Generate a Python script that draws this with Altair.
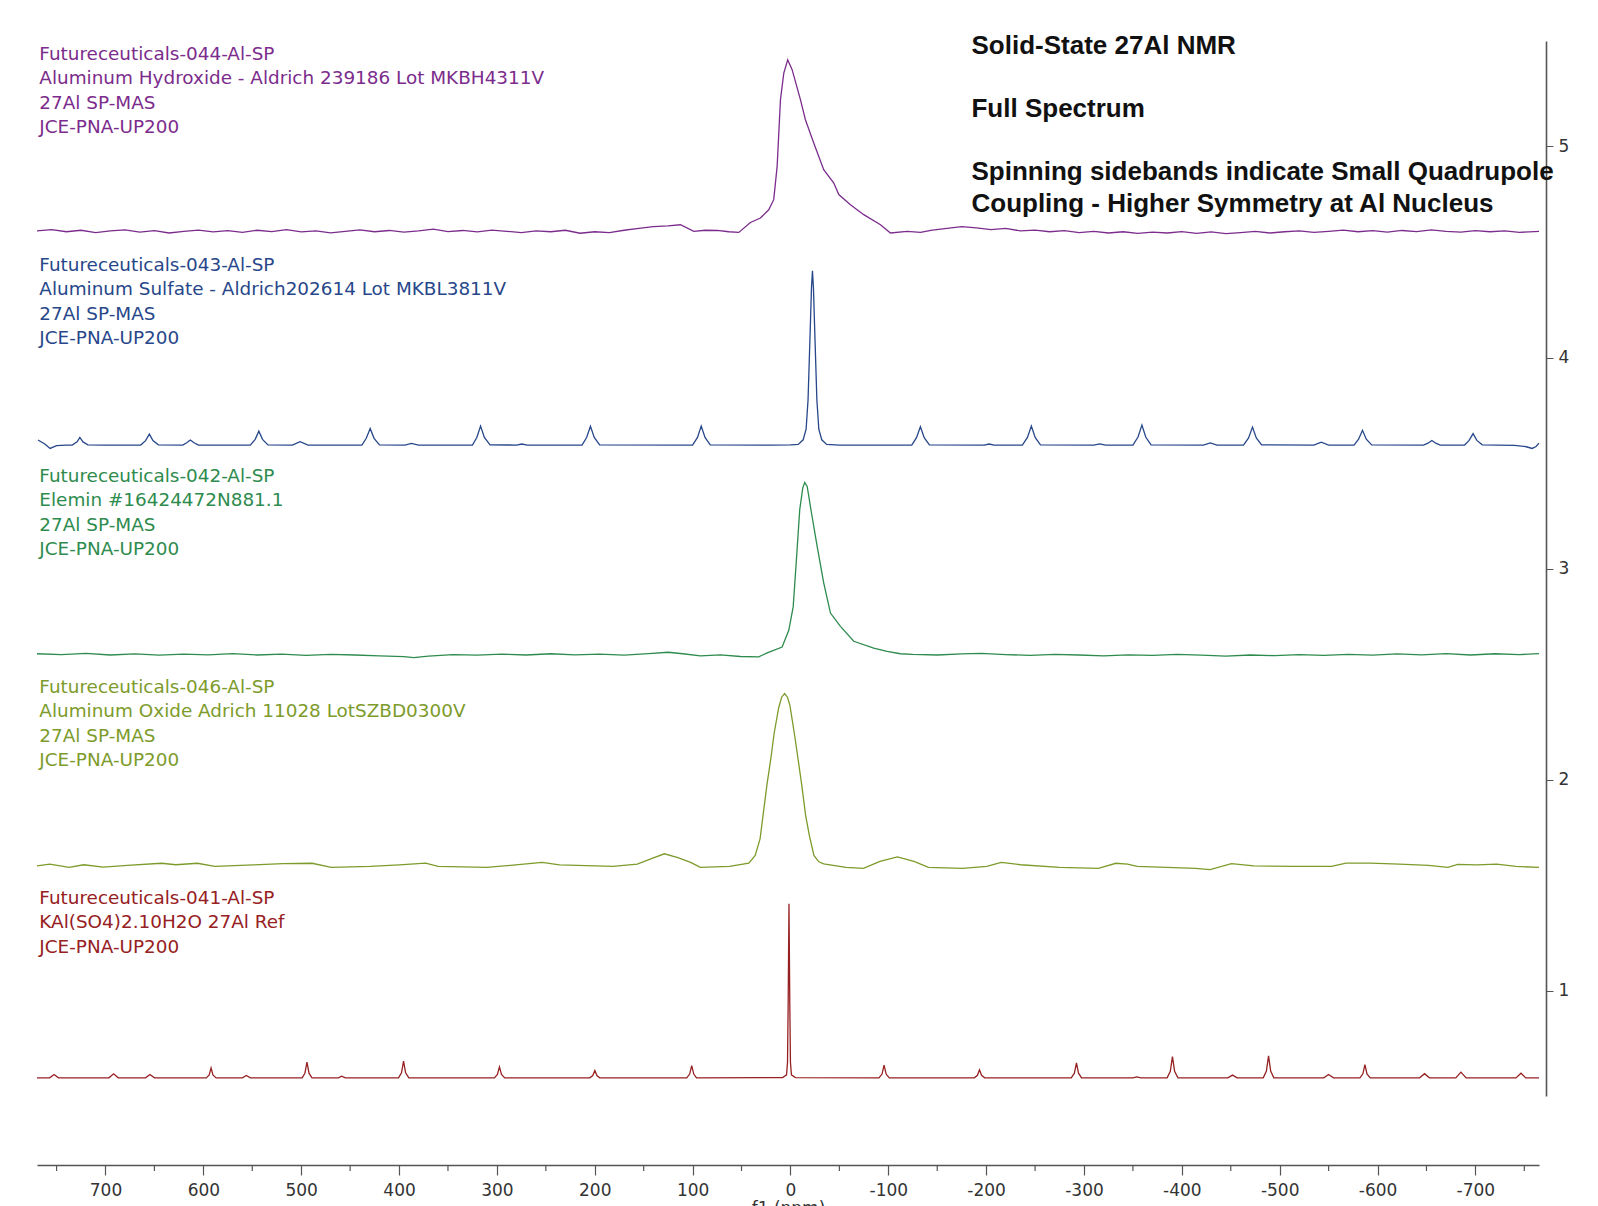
import altair as alt
import pandas as pd

# ---------------- data ----------------
sample_names = ["041", "046", "042", "043", "044"]
sample_colors = ["#962022", "#7D9B2B", "#2E8B4E", "#27478A", "#7B2C8C"]

# Futureceuticals-044 (purple) : (ppm, intensity)
pts_044 = [
    (770, 4.600), (755, 4.606), (740, 4.596), (725, 4.603), (710, 4.592), (695, 4.600),
    (680, 4.605), (665, 4.594), (650, 4.601), (635, 4.590), (620, 4.598), (605, 4.604),
    (590, 4.595), (575, 4.601), (560, 4.593), (545, 4.603), (530, 4.597), (515, 4.606),
    (500, 4.595), (485, 4.600), (470, 4.591), (455, 4.598), (440, 4.605), (425, 4.596),
    (410, 4.602), (395, 4.594), (380, 4.600), (365, 4.608), (350, 4.597), (335, 4.602),
    (320, 4.595), (305, 4.604), (290, 4.598), (275, 4.592), (260, 4.600), (245, 4.596),
    (230, 4.603), (215, 4.589), (200, 4.596), (185, 4.592), (170, 4.603), (155, 4.612),
    (140, 4.620), (125, 4.624), (112.4, 4.629), (98.8, 4.598), (87, 4.603), (74.9, 4.602),
    (63, 4.596), (52.8, 4.593), (40.9, 4.640), (30.7, 4.661), (22.2, 4.700), (17.1, 4.748),
    (13.6, 4.906), (10.2, 5.222), (6.8, 5.348), (2.8, 5.411), (-1.7, 5.364), (-10.2, 5.222),
    (-15.3, 5.127), (-23.8, 5.017), (-34.0, 4.890), (-44.3, 4.827), (-49.4, 4.772),
    (-61.3, 4.724), (-74.9, 4.677), (-92.0, 4.629), (-102.2, 4.590), (-119.3, 4.598),
    (-132.9, 4.593), (-145, 4.604), (-160, 4.612), (-175, 4.620), (-190, 4.614),
    (-205, 4.606), (-220, 4.612), (-235, 4.600), (-250, 4.604), (-265, 4.596), (-280, 4.601),
    (-295, 4.592), (-310, 4.598), (-325, 4.590), (-340, 4.596), (-355, 4.588), (-370, 4.594),
    (-385, 4.590), (-400, 4.597), (-415, 4.588), (-430, 4.595), (-445, 4.587), (-460, 4.592),
    (-475, 4.598), (-490, 4.590), (-505, 4.596), (-520, 4.600), (-535, 4.593), (-550, 4.598),
    (-565, 4.604), (-580, 4.596), (-595, 4.601), (-610, 4.594), (-625, 4.602), (-640, 4.597),
    (-655, 4.605), (-670, 4.598), (-685, 4.594), (-700, 4.601), (-715, 4.596), (-730, 4.600),
    (-745, 4.593), (-765, 4.598),
]

# Futureceuticals-043 (blue)
pts_043 = [
    (769, 3.609), (762, 3.590), (756.6, 3.569), (750, 3.582), (740, 3.585),
    (734, 3.585), (729, 3.600), (726.2, 3.621), (723, 3.600), (718, 3.586),
    (700, 3.585),
    (664, 3.585), (659, 3.606), (655.2, 3.637), (651.5, 3.606), (646, 3.586),
    (621, 3.585), (617, 3.596), (613.3, 3.609), (609.5, 3.596), (605, 3.585),
    (552, 3.585), (547, 3.612), (543.3, 3.651), (539.5, 3.612), (534, 3.586),
    (509, 3.585), (501.1, 3.601), (493, 3.585),
    (438, 3.585), (433.5, 3.617), (429.5, 3.664), (425.5, 3.617), (420, 3.586),
    (394, 3.585), (387.4, 3.593), (380, 3.585),
    (325, 3.585), (320.5, 3.621), (316.7, 3.675), (312.8, 3.621), (307, 3.586),
    (280, 3.585), (274.5, 3.590), (269, 3.585),
    (213, 3.585), (208.3, 3.621), (204.4, 3.674), (200.5, 3.621), (195, 3.586),
    (100, 3.585), (95, 3.621), (91.2, 3.675), (87.3, 3.621), (82, 3.586),
    (20, 3.585), (0, 3.586), (-8, 3.588), (-13, 3.610), (-16, 3.660), (-18, 3.800),
    (-20, 4.100), (-21.5, 4.330), (-22.5, 4.411), (-23.5, 4.330), (-25, 4.100),
    (-27, 3.800), (-29, 3.660), (-32, 3.610), (-37, 3.588), (-50, 3.585),
    (-124, 3.585), (-128.8, 3.620), (-132.8, 3.672), (-136.7, 3.620), (-142, 3.586),
    (-198, 3.585), (-203, 3.590), (-208, 3.585),
    (-237, 3.585), (-242.2, 3.621), (-246.2, 3.675), (-250.1, 3.621), (-255.5, 3.586),
    (-310, 3.585), (-316.1, 3.591), (-322, 3.585),
    (-350, 3.585), (-355.2, 3.623), (-359.2, 3.680), (-363.1, 3.623), (-368.5, 3.586),
    (-422, 3.585), (-429.1, 3.595), (-436, 3.585),
    (-463, 3.585), (-468.2, 3.619), (-472.2, 3.670), (-476.1, 3.619), (-481.5, 3.586),
    (-535, 3.585), (-542.5, 3.599), (-550, 3.585),
    (-576, 3.585), (-580.6, 3.613), (-584.6, 3.655), (-588.5, 3.613), (-594, 3.586),
    (-647, 3.585), (-651.5, 3.594), (-655.5, 3.607), (-659.5, 3.594), (-664, 3.585),
    (-689, 3.585), (-693.6, 3.607), (-697.6, 3.639), (-701.5, 3.607), (-707, 3.586),
    (-740, 3.584), (-752, 3.577), (-758, 3.569), (-762, 3.578), (-765, 3.594),
]

# Futureceuticals-042 (green)
pts_042 = [
    (770, 2.596), (745, 2.592), (720, 2.598), (695, 2.590), (670, 2.595), (645, 2.589),
    (620, 2.594), (595, 2.591), (570, 2.597), (545, 2.590), (520, 2.594), (495, 2.588),
    (470, 2.593), (445, 2.590), (420, 2.586), (395, 2.582), (385, 2.578), (370, 2.585),
    (345, 2.592), (320, 2.589), (295, 2.594), (270, 2.590), (245, 2.596), (220, 2.591),
    (195, 2.594), (170, 2.589), (145, 2.597), (125, 2.603), (110, 2.596), (92.0, 2.586),
    (71.5, 2.591), (51.1, 2.583), (32.4, 2.581), (23.8, 2.600), (8.5, 2.628), (1.7, 2.707),
    (-2.8, 2.818), (-6.1, 3.042), (-9.5, 3.279), (-12.6, 3.382), (-14.6, 3.408),
    (-17.1, 3.389), (-21.5, 3.263), (-27.3, 3.105), (-34.0, 2.932), (-40.9, 2.789),
    (-51.1, 2.726), (-64.7, 2.655), (-85.1, 2.623), (-98.8, 2.607), (-112.4, 2.596),
    (-125, 2.593), (-150, 2.590), (-175, 2.595), (-195, 2.598), (-220, 2.592), (-245, 2.588),
    (-270, 2.593), (-295, 2.590), (-320, 2.586), (-345, 2.591), (-370, 2.588), (-395, 2.593),
    (-420, 2.589), (-445, 2.585), (-470, 2.590), (-495, 2.587), (-520, 2.592), (-545, 2.588),
    (-570, 2.593), (-595, 2.589), (-620, 2.595), (-645, 2.591), (-670, 2.597), (-695, 2.590),
    (-720, 2.596), (-745, 2.592), (-765, 2.597),
]

# Futureceuticals-046 (olive)
pts_046 = [
    (770, 1.591), (757.0, 1.599), (737.1, 1.584), (722.2, 1.596), (702.4, 1.585),
    (677.6, 1.593), (642.8, 1.603), (628.0, 1.596), (606.1, 1.603), (588.3, 1.588),
    (548.6, 1.595), (518.8, 1.601), (489.0, 1.603), (469.2, 1.584), (429.5, 1.588),
    (399.7, 1.595), (372.9, 1.604), (360.0, 1.588), (310.4, 1.584), (280.7, 1.595),
    (253.8, 1.607), (236.0, 1.595), (181.4, 1.588), (156.6, 1.599), (142, 1.625),
    (128.8, 1.648), (115, 1.630), (102.0, 1.607), (92.1, 1.584), (62.3, 1.588),
    (42.5, 1.604), (36, 1.640), (31, 1.720), (28, 1.830), (24, 1.976), (20, 2.100),
    (16.7, 2.218), (12, 2.340), (9, 2.390), (6, 2.407), (3, 2.390), (0.5, 2.350),
    (-4, 2.218), (-8, 2.090), (-11.5, 1.976), (-15.5, 1.830), (-19.5, 1.730),
    (-24, 1.640), (-29, 1.610), (-34, 1.600), (-56.7, 1.584), (-74.6, 1.579),
    (-91.5, 1.612), (-109.3, 1.633), (-126.2, 1.612), (-141.1, 1.584), (-175.8, 1.579),
    (-200.6, 1.588), (-215.5, 1.607), (-235.3, 1.596), (-275.0, 1.584), (-314.7, 1.579),
    (-332.6, 1.603), (-344.5, 1.599), (-354.4, 1.588), (-413.9, 1.579), (-428.8, 1.573),
    (-450.7, 1.601), (-473.5, 1.591), (-513.2, 1.588), (-552.9, 1.588), (-567.8, 1.604),
    (-592.5, 1.604), (-622.3, 1.599), (-652.1, 1.593), (-671.9, 1.584), (-681.9, 1.598),
    (-701.7, 1.595), (-721.6, 1.599), (-741.4, 1.588), (-765, 1.584),
]

# Futureceuticals-041 (red)
pts_041 = [
    (770, 0.586),
    (757, 0.586), (752.6, 0.602), (748, 0.586),
    (696.5, 0.586), (691.7, 0.605), (687, 0.586),
    (659, 0.586), (654.6, 0.602), (650, 0.586),
    (597, 0.586), (594, 0.600), (592.1, 0.633), (590.2, 0.600), (587, 0.586),
    (560, 0.586), (556.1, 0.597), (552, 0.586),
    (499, 0.586), (496.2, 0.608), (494.1, 0.660), (492, 0.608), (489, 0.586),
    (462, 0.586), (458.6, 0.594), (455, 0.586),
    (400.5, 0.586), (397.5, 0.610), (395.4, 0.665), (393.3, 0.610), (390, 0.586),
    (302.5, 0.586), (299.5, 0.602), (297.4, 0.638), (295.3, 0.602), (292, 0.586),
    (205, 0.586), (202, 0.597), (199.9, 0.621), (197.8, 0.597), (195, 0.586),
    (106, 0.586), (103, 0.604), (100.9, 0.644), (98.8, 0.604), (96, 0.586),
    (8, 0.587), (4, 0.600), (3, 0.660), (2.3, 0.950), (1.5, 1.411), (0.7, 0.950),
    (0, 0.660), (-1, 0.600), (-5, 0.587),
    (-90.5, 0.586), (-93.6, 0.604), (-95.7, 0.646), (-97.8, 0.604), (-101, 0.586),
    (-188, 0.586), (-191.1, 0.598), (-193.2, 0.624), (-195.3, 0.598), (-198.5, 0.586),
    (-287, 0.586), (-290.2, 0.608), (-292.3, 0.657), (-294.4, 0.608), (-297.5, 0.586),
    (-350, 0.586), (-354, 0.591), (-358, 0.586),
    (-385, 0.586), (-388.2, 0.617), (-390.4, 0.687), (-392.6, 0.617), (-396, 0.586),
    (-447, 0.586), (-451.8, 0.599), (-456.5, 0.586),
    (-483.2, 0.586), (-486.4, 0.618), (-488.6, 0.690), (-490.8, 0.618), (-494, 0.586),
    (-545, 0.586), (-549.9, 0.602), (-555, 0.586),
    (-582, 0.586), (-585, 0.605), (-587.1, 0.649), (-589.2, 0.605), (-592.5, 0.586),
    (-643, 0.586), (-648, 0.606), (-653, 0.586),
    (-680, 0.586), (-685.2, 0.613), (-690.5, 0.586),
    (-741.5, 0.586), (-746.6, 0.608), (-751.5, 0.586),
    (-765, 0.586),
]

# sample annotation blocks: (sample, first-line y, lines)
label_x_ppm = 767.6
label_blocks = [
    ("044", 5.440, ["Futureceuticals-044-Al-SP",
                    "Aluminum Hydroxide - Aldrich 239186 Lot MKBH4311V",
                    "27Al SP-MAS", "JCE-PNA-UP200"]),
    ("043", 4.440, ["Futureceuticals-043-Al-SP",
                    "Aluminum Sulfate - Aldrich202614 Lot MKBL3811V",
                    "27Al SP-MAS", "JCE-PNA-UP200"]),
    ("042", 3.440, ["Futureceuticals-042-Al-SP",
                    "Elemin #16424472N881.1",
                    "27Al SP-MAS", "JCE-PNA-UP200"]),
    ("046", 2.440, ["Futureceuticals-046-Al-SP",
                    "Aluminum Oxide Adrich 11028 LotSZBD0300V",
                    "27Al SP-MAS", "JCE-PNA-UP200"]),
    ("041", 1.440, ["Futureceuticals-041-Al-SP",
                    "KAl(SO4)2.10H2O 27Al Ref",
                    "JCE-PNA-UP200"]),
]
label_line_step = 0.116

title_x_ppm = -185
title_lines = ["Solid-State 27Al NMR", "Full Spectrum",
               "Spinning sidebands indicate Small Quadrupole",
               "Coupling - Higher Symmetry at Al Nucleus"]
title_y = [5.478, 5.179, 4.879, 4.729]

major_ticks = [700, 600, 500, 400, 300, 200, 100, 0, -100, -200, -300, -400, -500, -600, -700]
minor_ticks = [750, 650, 550, 450, 350, 250, 150, 50, -50, -150, -250, -350, -450, -550, -650, -750]
y_ticks = [1, 2, 3, 4, 5]

X_DOMAIN = [-765, 770]
Y_DOMAIN = [0.5, 5.5]
W, H = 1502, 1055
X_AXIS_OFFSET = 69

# ---------------- build tables ----------------
rows = []
for name, pts in [("044", pts_044), ("043", pts_043), ("042", pts_042),
                  ("046", pts_046), ("041", pts_041)]:
    for i, (p, v) in enumerate(pts):
        rows.append({"sample": name, "ppm": p, "intensity": v, "idx": i})
lines_df = pd.DataFrame(rows)

color_of = dict(zip(sample_names, sample_colors))
text_rows = []
for name, y0, lines in label_blocks:
    for k, t in enumerate(lines):
        text_rows.append({"text": t, "ppm": label_x_ppm,
                          "intensity": y0 - k * label_line_step,
                          "color": color_of[name]})
text_df = pd.DataFrame(text_rows)

title_df = pd.DataFrame({"text": title_lines, "ppm": [title_x_ppm] * len(title_lines),
                         "intensity": title_y})
minor_df = pd.DataFrame({"ppm": minor_ticks})

x_scale = alt.Scale(domain=X_DOMAIN, reverse=True, nice=False, zero=False)
y_scale = alt.Scale(domain=Y_DOMAIN, nice=False, zero=False)

x_axis = alt.Axis(orient="bottom", offset=X_AXIS_OFFSET, values=major_ticks,
                  labelExpr="'' + datum.value", tickSize=10, tickWidth=1.2,
                  tickColor="#555", domainColor="#555", domainWidth=1.6,
                  labelFont="DejaVu Sans", labelFontSize=17, labelColor="#333",
                  labelPadding=7, labelOverlap=False, grid=False,
                  title="f1 (ppm)", titleFont="DejaVu Sans", titleFontSize=17,
                  titleFontWeight="normal", titleColor="#333", titlePadding=2)
y_axis = alt.Axis(orient="right", offset=7, values=y_ticks, tickSize=7,
                  tickColor="#555", domainColor="#555", domainWidth=1.6,
                  labelFont="DejaVu Sans", labelFontSize=17, labelColor="#333",
                  labelPadding=5, grid=False, title=None)

X = alt.X("ppm:Q", scale=x_scale, axis=x_axis, title="f1 (ppm)")
Y = alt.Y("intensity:Q", scale=y_scale, axis=y_axis, title=None)

lines = alt.Chart(lines_df).mark_line(strokeWidth=1.3, interpolate="linear").encode(
    x=X, y=Y,
    color=alt.Color("sample:N", scale=alt.Scale(domain=sample_names, range=sample_colors),
                    legend=None),
    order=alt.Order("idx:Q"),
)

minor = alt.Chart(minor_df).mark_rule(color="#555", strokeWidth=1.2).encode(
    x=X,
    y=alt.value(H + X_AXIS_OFFSET),
    y2=alt.value(H + X_AXIS_OFFSET + 6),
)

labels = alt.Chart(text_df).mark_text(
    align="left", baseline="middle", font="DejaVu Sans", fontSize=18.4
).encode(
    x=X, y=Y,
    text="text:N",
    color=alt.Color("color:N", scale=None),
)

titles = alt.Chart(title_df).mark_text(
    align="left", baseline="middle", font="Liberation Sans", fontSize=26,
    fontWeight="bold", color="#111"
).encode(
    x=X, y=Y,
    text="text:N",
)

chart = alt.layer(lines, minor, labels, titles).properties(
    width=W, height=H,
    autosize=alt.AutoSizeParams(type="none"),
    padding={"left": 37, "top": 41, "right": 1598 - 37 - W, "bottom": 1206 - 41 - H},
    background="white",
).configure_view(stroke=None)

chart.save("out.html", embed_options={"renderer": "svg", "actions": False})
